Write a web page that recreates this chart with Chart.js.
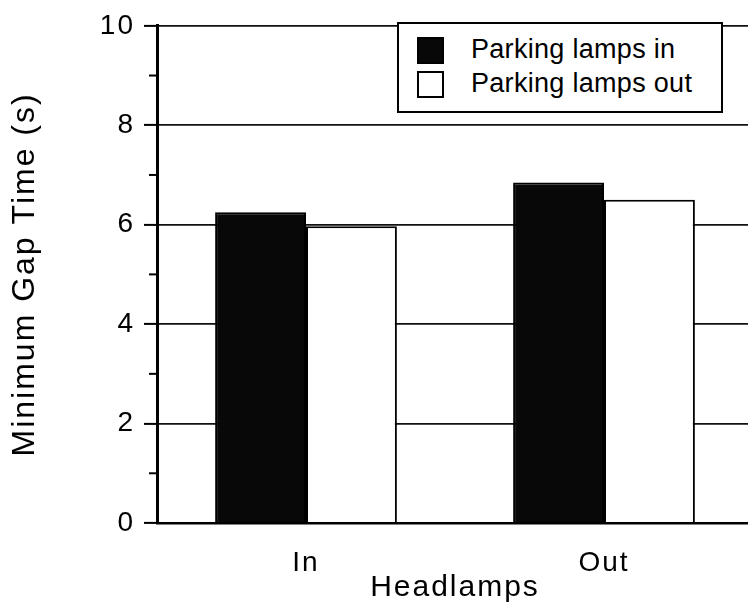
<!DOCTYPE html>
<html>
<head>
<meta charset="utf-8">
<script src="https://cdn.jsdelivr.net/npm/chart.js@4.4.1/dist/chart.umd.min.js"></script>
<style>
    html, body { margin: 0; padding: 0; background: #fff; overflow: hidden; }
    #wrap { position: absolute; left: 0; top: 0; width: 757px; height: 613px; }
    #legend {
        position: absolute; left: 397px; top: 22px; width: 322px; height: 87px;
        border: 2px solid #000; background: #fff;
        font-family: "Liberation Sans", Arial, sans-serif; font-size: 27px; color: #000;
        letter-spacing: 0.3px;
    }
    .row { position: absolute; left: 18px; height: 28px; line-height: 28px; }
    .sw { position: absolute; left: 0; top: 1px; width: 23px; height: 23px; border: 2px solid #000; }
    .lbl { position: absolute; left: 54px; top: -1px; white-space: nowrap; }
</style>
</head>
<body>
<div id="wrap"><canvas id="chart-1"></canvas></div>
<div id="legend"></div>
<script>
//////////////////////////////////////////////// data
const categories = ['In', 'Out'];
const seriesNames = ['Parking lamps in', 'Parking lamps out'];
const lampsIn = [6.25, 6.85];
const lampsOut = [5.97, 6.5];
const yTicks = [0, 2, 4, 6, 8, 10];
const minorTicks = [1, 3, 5, 7, 9];

const font = "'Liberation Sans', Arial, sans-serif";

// the scanned figure has loosely spaced lettering
const spacingPlugin = {
    id: 'spacing',
    beforeDraw(chart) {
        chart.ctx.letterSpacing = '2px';
    }
};

// little ticks between the numbered ones on the y axis
const minorTickPlugin = {
    id: 'minorTicks',
    afterDraw(chart) {
        const y = chart.scales.y;
        const c = chart.ctx;
        c.save();
        c.strokeStyle = '#000';
        c.lineWidth = 2;
        minorTicks.forEach(v => {
            const py = y.getPixelForValue(v);
            c.beginPath();
            c.moveTo(y.right - 8, py);
            c.lineTo(y.right, py);
            c.stroke();
        });
        c.restore();
    }
};

const ctx1 = document.getElementById('chart-1');

const chart1 = new Chart(ctx1, {
    type: 'bar',
    data: {
        labels: categories,
        datasets: [{
            label: seriesNames[0],
            data: lampsIn,
            backgroundColor: '#080808',
            borderColor: '#000',
            borderWidth: 2
        }, {
            label: seriesNames[1],
            data: lampsOut,
            backgroundColor: '#fff',
            borderColor: '#000',
            borderWidth: 2
        }]
    },
    options: {
        responsive: true,
        maintainAspectRatio: false,
        animation: false,
        categoryPercentage: 0.61,
        barPercentage: 1,
        layout: { padding: { top: 16, right: 4, left: 0, bottom: 0 } },
        plugins: {
            legend: { display: false },
            tooltip: { enabled: false }
        },
        scales: {
            x: {
                grid: { display: false, drawTicks: false },
                border: { display: true, color: '#000', width: 2.5 },
                ticks: { color: '#000', font: { family: font, size: 28 }, padding: 23 },
                title: {
                    display: true, text: 'Headlamps', color: '#000',
                    font: { family: font, size: 30 }, padding: { top: 0, bottom: 7 }
                },
                afterFit(scale) { scale.height = 90; }
            },
            y: {
                min: 0,
                max: 10,
                afterBuildTicks(scale) { scale.ticks = yTicks.map(v => ({ value: v })); },
                grid: { color: '#111', lineWidth: 1.8, tickLength: 13, tickColor: '#000', tickWidth: 2 },
                border: { display: true, color: '#000', width: 3 },
                ticks: { color: '#000', font: { family: font, size: 28 }, padding: 9 },
                title: {
                    display: true, text: 'Minimum Gap Time (s)', color: '#000',
                    font: { family: font, size: 32 }, padding: { top: 6, bottom: 0 }
                },
                afterFit(scale) { scale.width = 157; }
            }
        }
    },
    plugins: [spacingPlugin, minorTickPlugin]
});

// legend box inside the plot, from the dataset labels
const legendEl = document.getElementById('legend');
chart1.data.datasets.forEach((ds, i) => {
    const row = document.createElement('div');
    row.className = 'row';
    row.style.top = (12 + i * 34) + 'px';
    row.innerHTML = '<div class="sw" style="background:' + ds.backgroundColor + '"></div>' +
        '<div class="lbl">' + ds.label + '</div>';
    legendEl.appendChild(row);
});
</script>
</body>
</html>
